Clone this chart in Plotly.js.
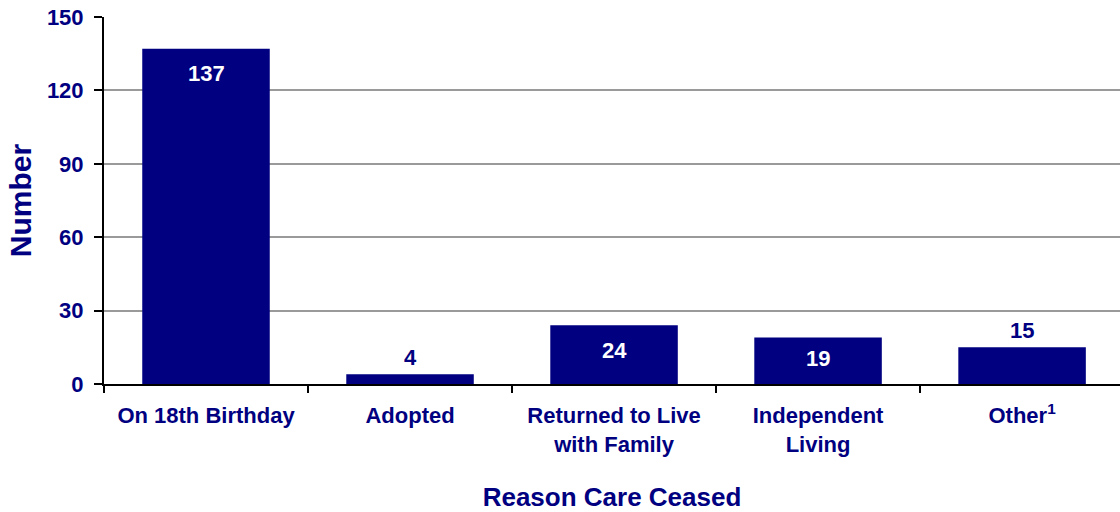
<!DOCTYPE html>
<html>
<head>
<meta charset="utf-8">
<script src="https://cdn.plot.ly/plotly-3.0.1.min.js"></script>
<style>html,body{margin:0;padding:0;background:#fff;}#chart{width:1120px;height:512px;}</style>
</head>
<body>
<div id="chart"></div>
<script>
var categories = ["On 18th Birthday", "Adopted", "Returned to Live<br>with Family", "Independent<br>Living", "Other<sup>1</sup>"];
var values = [137, 4, 24, 19, 15];
var labelInside = [true, false, true, true, false];

var navy = "#000080";
var font = "Liberation Sans, Arial, sans-serif";

var plotTop = 17, plotBottom = 128, H = 512, yMax = 150;
var pxPerUnit = (H - plotTop - plotBottom) / yMax;

var annotations = values.map(function (v, i) {
  var inside = labelInside[i];
  var barPx = v * pxPerUnit;
  return {
    x: categories[i], y: v, xref: "x", yref: "y",
    text: String(v), showarrow: false,
    yanchor: "middle",
    yshift: inside ? -Math.min(25, barPx / 2 - 2) : 17,
    font: {family: font, size: 22, color: inside ? "#ffffff" : navy, weight: "bold"}
  };
});

var trace = {
  type: "bar",
  x: categories,
  y: values,
  width: 0.625,
  marker: {color: navy, line: {width: 0}},
  hoverinfo: "none"
};

var layout = {
  width: 1120, height: 512,
  margin: {l: 104, r: 0, t: plotTop, b: plotBottom, pad: 0},
  paper_bgcolor: "#ffffff", plot_bgcolor: "#ffffff",
  showlegend: false,
  font: {family: font, color: navy, size: 22, weight: "bold"},
  xaxis: {
    type: "category",
    range: [-0.5, 4.48],
    showline: true, linecolor: "#000000", linewidth: 2,
    ticks: "outside", tickson: "boundaries", ticklen: 7, tickwidth: 2, tickcolor: "#000000",
    showgrid: false, zeroline: false,
    tickfont: {family: font, size: 22, color: navy, weight: "bold"},
    ticklabelstandoff: 11,
    automargin: false,
    title: {text: "Reason Care Ceased", font: {family: font, size: 26, color: navy, weight: "bold"}, standoff: 42}
  },
  yaxis: {
    range: [0, yMax], dtick: 30, tick0: 0,
    showline: true, linecolor: "#000000", linewidth: 2,
    ticks: "outside", ticklen: 8, tickwidth: 2, tickcolor: "#000000",
    showgrid: true, gridcolor: "#9a9a9a", gridwidth: 2,
    zeroline: false,
    tickfont: {family: font, size: 22, color: navy, weight: "bold"},
    ticklabelstandoff: 6,
    automargin: false,
    title: {text: "Number", font: {family: font, size: 30, color: navy, weight: "bold"}, standoff: 6}
  },
  annotations: annotations
};

Plotly.newPlot("chart", [trace], layout, {displayModeBar: false, staticPlot: true});
</script>
</body>
</html>
